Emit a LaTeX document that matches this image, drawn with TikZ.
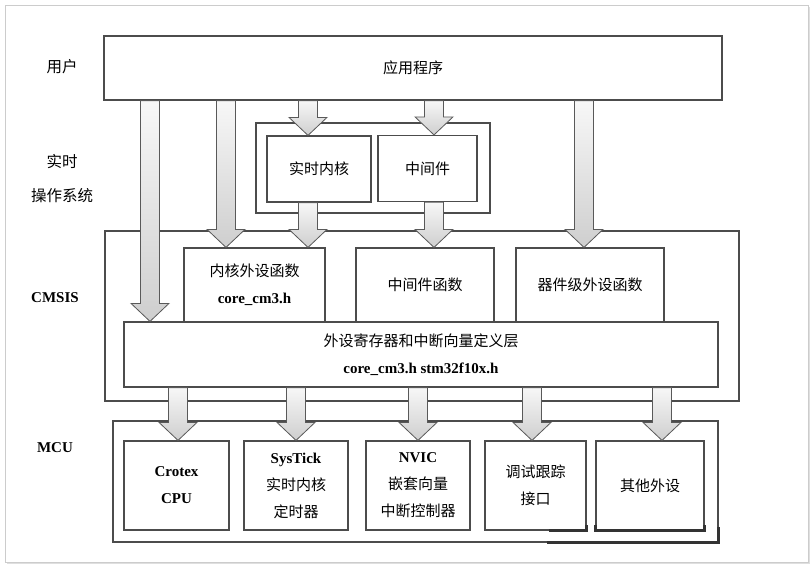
\documentclass[tikz,border=0pt]{standalone}
\usepackage{fontspec}
\setmainfont{Liberation Serif}
\newfontfamily\cjk{Noto Sans CJK SC}
\usetikzlibrary{calc, shadows}
\newcommand{\lat}[1]{{\rmfamily\bfseries #1}}
\newcommand{\barrow}[2]{%
  \shadedraw[blockarrow] let \p1=#1, \p2=#2 in
    (\x1-9.5pt,\y1) -- (\x1+9.5pt,\y1) -- (\x1+9.5pt,\y2+18pt) -- (\x1+19pt,\y2+18pt)
    -- (\x2,\y2) -- (\x1-19pt,\y2+18pt) -- (\x1-9.5pt,\y2+18pt) -- cycle;}

\begin{document}
\begin{tikzpicture}[x=1pt, y=-1pt,
    frame/.style={draw=gray!40, fill=white, line width=1pt, drop shadow={opacity=0.25, shadow xshift=1.5pt, shadow yshift=-1.5pt}},
    group/.style={draw=black!70, line width=1.2pt, inner sep=0pt},
    box/.style={draw=black!70, line width=1.2pt, fill=white, align=center, inner sep=0pt, font=\cjk\fontsize{15}{27}\selectfont},
    side/.style={align=center, font=\cjk\fontsize{15.5}{34}\selectfont},
    blockarrow/.style={draw=black!65, line width=0.8pt, top color=gray!6, bottom color=gray!38},
    heavy/.style={draw=black!80, line width=3pt}]
  \useasboundingbox (0,0) rectangle (812,568);
  \node[frame, minimum width=803, minimum height=557] (frame) at (406.5,283.5) {};

  \node[side] (user) at (62,67) {用户};
  \node[side] (os) at (62,179) {实时\\操作系统};
  \node[side, font=\rmfamily\bfseries\fontsize{15}{18}\selectfont] (cmsislab) at (55,298) {CMSIS};
  \node[side, font=\rmfamily\bfseries\fontsize{15}{18}\selectfont] (mculab) at (55,448) {MCU};

  \node[group, minimum width=234, minimum height=90] (rtos) at (373,168) {};
  \node[group, minimum width=634, minimum height=170] (cmsis) at (422,316) {};
  \node[group, minimum width=605, minimum height=121] (mcu) at (415.5,481.5) {};

  \node[box, minimum width=618, minimum height=64] (app) at (413,68) {应用程序};
  \node[box, minimum width=104, minimum height=66] (kernel) at (319,169) {实时内核};
  \node[box, minimum width=99, minimum height=66] (mid) at (427.5,168.5) {中间件};
  \node[box, minimum width=141, minimum height=74] (corefn) at (254.5,285) {内核外设函数\\\lat{core\_cm3.h}};
  \node[box, minimum width=138, minimum height=74] (midfn) at (425,285) {中间件函数};
  \node[box, minimum width=148, minimum height=74] (devfn) at (590,285) {器件级外设函数};
  \node[box, minimum width=594, minimum height=65] (layer) at (421,354.5) {外设寄存器和中断向量定义层\\\lat{core\_cm3.h stm32f10x.h}};

  \node[box, minimum width=105, minimum height=89] (cpu) at (176.5,485.5) {\lat{Crotex}\\\lat{CPU}};
  \node[box, minimum width=104, minimum height=89] (systick) at (296,485.5) {\lat{SysTick}\\实时内核\\定时器};
  \node[box, minimum width=104, minimum height=89] (nvic) at (418,485.5) {\lat{NVIC}\\嵌套向量\\中断控制器};
  \node[box, minimum width=101, minimum height=89] (dbg) at (535.5,485.5) {调试跟踪\\接口};
  \node[box, minimum width=108, minimum height=89] (other) at (650,485.5) {其他外设};

  \coordinate (xa) at (150,0);
  \coordinate (xb) at (226,0);
  \coordinate (xc) at (308,0);
  \coordinate (xd) at (434,0);
  \coordinate (xe) at (584,0);
  \coordinate (xf) at (178,0);
  \coordinate (xg) at (296,0);
  \coordinate (xh) at (418,0);
  \coordinate (xi) at (532,0);
  \coordinate (xj) at (662,0);

  \barrow{(app.south -| xa)}{(layer.north -| xa)}
  \barrow{(app.south -| xb)}{(corefn.north -| xb)}
  \barrow{(app.south -| xc)}{(kernel.north -| xc)}
  \barrow{(app.south -| xd)}{(mid.north -| xd)}
  \barrow{(app.south -| xe)}{(devfn.north -| xe)}
  \barrow{(kernel.south -| xc)}{(corefn.north -| xc)}
  \barrow{(mid.south -| xd)}{(midfn.north -| xd)}
  \barrow{(layer.south -| xf)}{(cpu.north -| xf)}
  \barrow{(layer.south -| xg)}{(systick.north -| xg)}
  \barrow{(layer.south -| xh)}{(nvic.north -| xh)}
  \barrow{(layer.south -| xi)}{(dbg.north -| xi)}
  \barrow{(layer.south -| xj)}{(other.north -| xj)}

  \draw[heavy] ($(mcu.south east)+(-172,0)$) -- (mcu.south east) -- ++(0,-16);
  \draw[heavy] ($(dbg.south east)+(-38,0)$) -- (dbg.south east) -- ++(0,-6);
  \draw[heavy] ($(other.south west)+(0,-6)$) -- (other.south west) -- (other.south east) -- ++(0,-6);
\end{tikzpicture}
\end{document}
